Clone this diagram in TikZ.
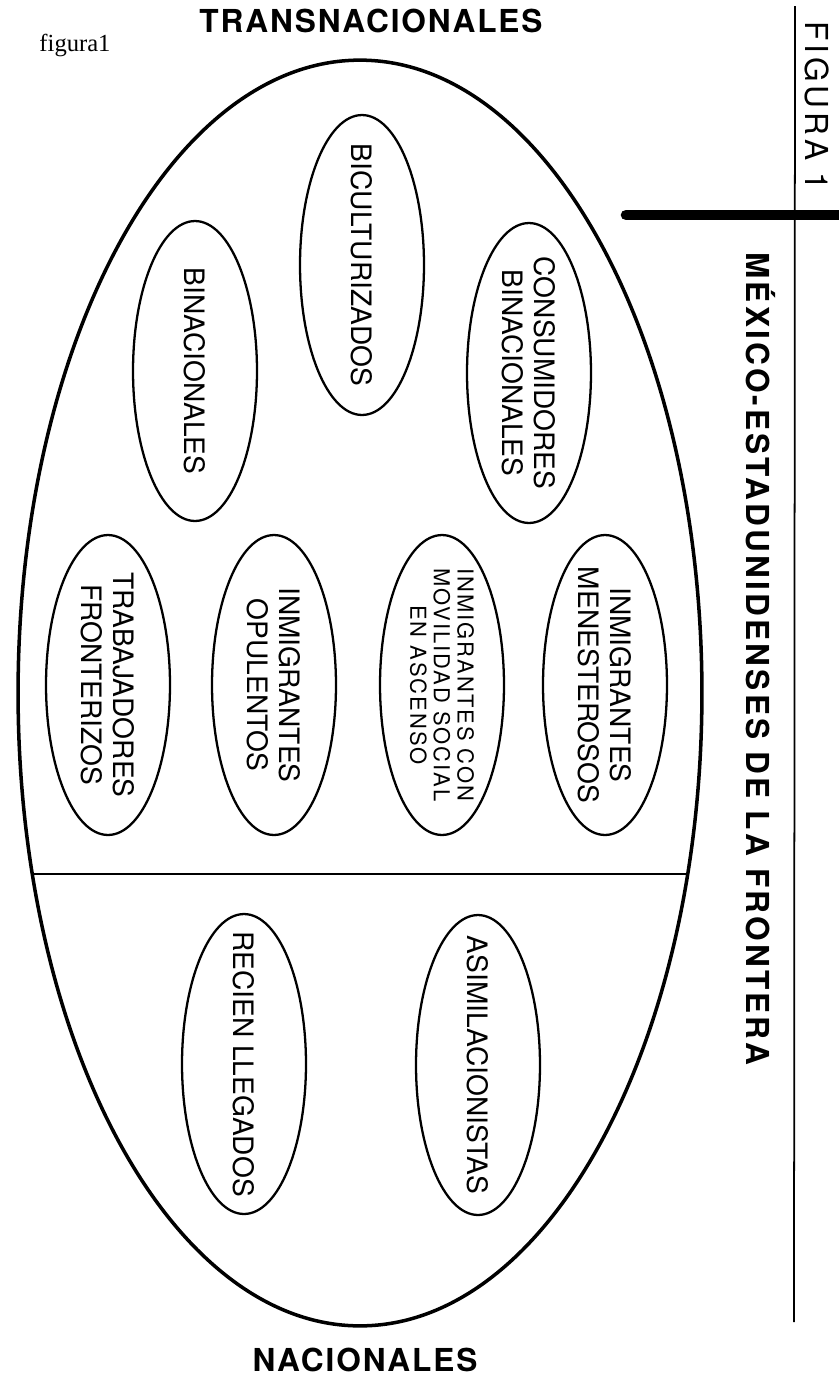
\documentclass[tikz,border=0pt]{standalone}
\usepackage{fontspec}
\setsansfont{TeX Gyre Heros}
\newfontfamily\serifa{Liberation Serif}
\usetikzlibrary{shapes.geometric}
\tikzset{
grupo/.style={draw, ellipse, line width=1.3pt, rotate=-90, minimum width=6cm, minimum height=2.48cm, inner xsep=-0.6cm, inner ysep=0pt, align=center, font=\sffamily\fontsize{16}{18}\selectfont},
titulo/.style={font=\sffamily\bfseries\fontsize{18}{22}\selectfont\espacio{6}},
}
\newcommand{\espacio}[1]{\addfontfeatures{LetterSpace=#1}}

\begin{document}
\begin{tikzpicture}[x=0.02cm, y=-0.02cm]
    \useasboundingbox (0,0) rectangle (839,1377);
    \node[font=\serifa\fontsize{14}{16}\selectfont] (nota) at (75,45) {figura1};
    \node[titulo] (trans) at (371,21) {TRANSNACIONALES};
    \node[titulo, anchor=base, inner sep=0pt] (nac) at (365,1371) {NACIONALES};
    \draw[line width=2pt] (360,693) ellipse [x radius=6.84cm, y radius=12.66cm];
    \begin{scope}
        \clip (360,693) ellipse [x radius=6.84cm, y radius=12.66cm];
        \draw[line width=1.6pt] (0,874) -- (839,874);
    \end{scope}
    \node[grupo] (bicult) at (362,265) {BICULTURIZADOS};
    \node[grupo] (binac) at (195,371) {BINACIONALES};
    \node[grupo] (consum) at (529,373) {CONSUMIDORES\\BINACIONALES};
    \node[grupo] (trabaj) at (108,685) {TRABAJADORES\\FRONTERIZOS};
    \node[grupo] (opul) at (274,685) {INMIGRANTES\\OPULENTOS};
    \node[grupo, font=\sffamily\fontsize{12.5}{13.5}\selectfont\espacio{9}] (movil) at (442,685) {INMIGRANTES CON\\MOVILIDAD SOCIAL\\EN ASCENSO};
    \node[grupo] (menest) at (605,685) {INMIGRANTES\\MENESTEROSOS};
    \node[grupo] (recien) at (244,1064) {RECIEN LLEGADOS};
    \node[grupo] (asimil) at (478,1065) {ASIMILACIONISTAS};
    \draw[line width=1pt] (795,6) -- (794,1322);
    \draw[line width=6pt, line cap=round] (626,215) -- (845,215);
    \node[rotate=-90, font=\sffamily\fontsize{18}{20}\selectfont\espacio{12}] (figura) at (817,106) {FIGURA 1};
    \node[rotate=-90, font=\sffamily\bfseries\fontsize{18}{22}\selectfont\espacio{10}] (frontera) at (761,659) {MÉXICO-ESTADUNIDENSES DE LA FRONTERA};
\end{tikzpicture}
\end{document}
